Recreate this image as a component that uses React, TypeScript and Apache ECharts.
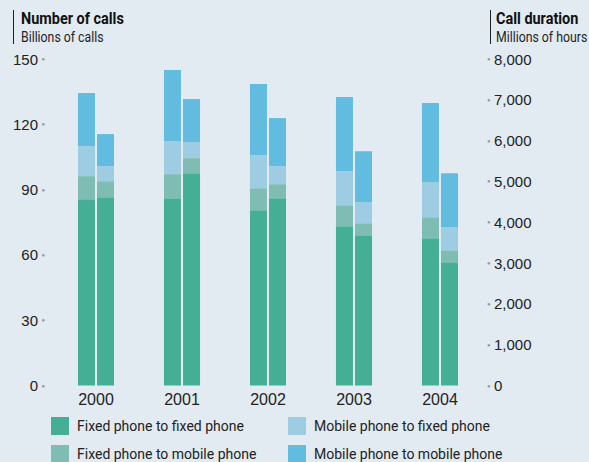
import React, { useEffect, useRef } from "react";
import * as echarts from "echarts";

const years = ["2000", "2001", "2002", "2003", "2004"];
const segmentNames = [
  "Fixed phone to fixed phone",
  "Fixed phone to mobile phone",
  "Mobile phone to fixed phone",
  "Mobile phone to mobile phone",
];
const segmentColors = ["#45AF96", "#7FBDB4", "#9DCCE3", "#62BCE0"];

// Number of calls (billions) – left axis
const callsFixedFixed = [85.6, 86.0, 80.5, 73.2, 67.6];
const callsFixedMobile = [10.6, 11.1, 10.1, 9.6, 9.7];
const callsMobileFixed = [13.8, 15.2, 15.2, 15.7, 16.1];
const callsMobileMobile = [24.4, 32.7, 32.7, 34.0, 36.4];

// Call duration (millions of hours) – right axis
const durFixedFixed = [4613, 5203, 4589, 3681, 3018];
const durFixedMobile = [393, 368, 344, 294, 295];
const durMobileFixed = [368, 392, 441, 516, 564];
const durMobileMobile = [786, 1056, 1178, 1251, 1326];

const leftTicks = { min: 0, max: 150, interval: 30 };
const rightTicks = { min: 0, max: 8000, interval: 1000 };

const NARROW = "Roboto, 'Liberation Sans', sans-serif";
const REG = "'Liberation Sans', Arial, sans-serif";

export default function App() {
  const ref = useRef<HTMLDivElement>(null);
  useEffect(() => {
    if (!ref.current) return;
    const chart = echarts.init(ref.current, null, { renderer: "svg" });
    const callsData = [callsFixedFixed, callsFixedMobile, callsMobileFixed, callsMobileMobile];
    const durData = [durFixedFixed, durFixedMobile, durMobileFixed, durMobileMobile];
    const series: any[] = [];
    segmentNames.forEach((n, i) => {
      series.push({
        name: n,
        type: "bar",
        stack: "calls",
        yAxisIndex: 0,
        data: callsData[i],
        barWidth: 17,
        barGap: "12%",
        itemStyle: { color: segmentColors[i] },
      });
    });
    segmentNames.forEach((n, i) => {
      series.push({
        name: n,
        type: "bar",
        stack: "duration",
        yAxisIndex: 1,
        data: durData[i],
        barWidth: 17,
        barGap: "12%",
        itemStyle: { color: segmentColors[i] },
      });
    });
    const legendPos = [
      { left: 51, top: 417 },
      { left: 51, top: 445 },
      { left: 288, top: 417 },
      { left: 288, top: 445 },
    ];
    const legends = segmentNames.map((n, i) => ({
      data: [n],
      orient: "horizontal",
      left: legendPos[i].left,
      top: legendPos[i].top,
      padding: 0,
      itemWidth: 18,
      itemHeight: 18,
      icon: "rect",
      textStyle: { fontSize: 14, color: "#222", fontFamily: NARROW, padding: [0, 0, 0, 3] },
      selectedMode: false,
    }));
    chart.setOption({
      animation: false,
      backgroundColor: "#E2EAF2",
      grid: { left: 53, right: 106, top: 59, bottom: 76.5 },
      xAxis: {
        type: "category",
        data: years,
        axisLine: { show: false },
        axisTick: { show: false },
        axisLabel: { fontSize: 16, color: "#222", fontFamily: REG, margin: 6 },
      },
      yAxis: [
        {
          type: "value",
          ...leftTicks,
          position: "left",
          splitLine: { show: false },
          axisLine: { show: false },
          axisTick: { show: false },
          axisLabel: {
            margin: 8,
            formatter: (v: number) => `{v|${v}} {d|●}`,
            rich: {
              v: { fontSize: 15, color: "#222", fontFamily: REG },
              d: { fontSize: 6, color: "#999" },
            },
          },
        },
        {
          type: "value",
          ...rightTicks,
          position: "right",
          splitLine: { show: false },
          axisLine: { show: false },
          axisTick: { show: false },
          axisLabel: {
            margin: 4,
            formatter: (v: number) => `{d|●} {v|${v.toLocaleString("en-US")}}`,
            rich: {
              v: { fontSize: 15, color: "#222", fontFamily: REG },
              d: { fontSize: 6, color: "#999" },
            },
          },
        },
      ],
      legend: legends,
      graphic: [
        { type: "line", shape: { x1: 13.5, y1: 10, x2: 13.5, y2: 44 }, style: { stroke: "#222", lineWidth: 1 } },
        {
          type: "text",
          x: 21,
          y: 10,
          scaleX: 0.85,
          style: { text: "Number of calls", font: `bold 17px ${NARROW}`, fill: "#111" },
        },
        {
          type: "text",
          x: 21,
          y: 29,
          scaleX: 0.82,
          style: { text: "Billions of calls", font: `15px ${NARROW}`, fill: "#222" },
        },
        { type: "line", shape: { x1: 490.5, y1: 10, x2: 490.5, y2: 44 }, style: { stroke: "#222", lineWidth: 1 } },
        {
          type: "text",
          x: 496,
          y: 10,
          scaleX: 0.85,
          style: { text: "Call duration", font: `bold 17px ${NARROW}`, fill: "#111" },
        },
        {
          type: "text",
          x: 496,
          y: 29,
          scaleX: 0.82,
          style: { text: "Millions of hours", font: `15px ${NARROW}`, fill: "#222" },
        },
      ],
      series,
    });
    return () => chart.dispose();
  }, []);
  return <div ref={ref} style={{ width: 589, height: 462, position: "absolute", left: 0, top: 0 }} />;
}
